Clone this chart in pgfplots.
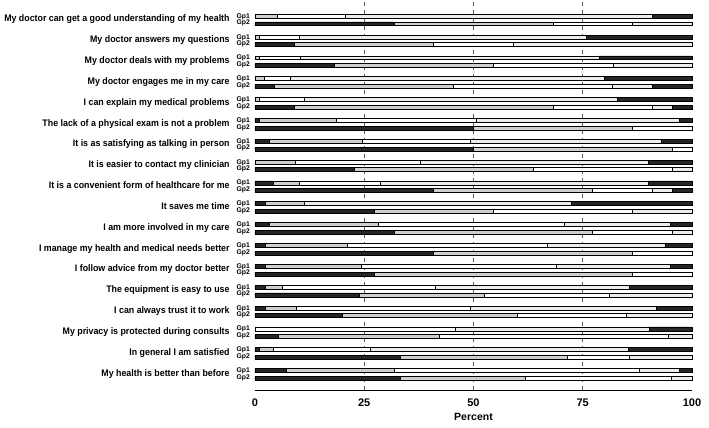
\documentclass[border=0pt]{standalone}
\usepackage{pgfplots}
\pgfplotsset{compat=1.18}
\usepackage{pgfplotstable}
\usepackage{fontspec}
\setmainfont{Liberation Sans}
\newfontfamily\narrowfont{Liberation Sans}[FakeStretch=0.93]
\definecolor{cdark}{HTML}{262626}
\definecolor{cgray}{HTML}{CFCFCF}
\definecolor{cwhite}{HTML}{FFFFFF}
\definecolor{clight}{HTML}{EDEDED}
\newcommand{\gp}{{\fontsize{6.8}{6.2}\selectfont\bfseries\begin{tabular}[c]{@{}r@{}}Gp1\\Gp2\end{tabular}}}
\newcommand{\lab}[1]{{\narrowfont\bfseries\fontsize{9.5}{11}\selectfont #1}\hspace{7pt}\gp}

\pgfplotstableread{
y      a     b     c     d     e
17.185 0     5.2   15.5  70.2  9.1
16.815 31.8  36.4  18.2  13.6  0
16.185 0     1.0   9.1   65.8  24.1
15.815 9.1   31.8  18.2  40.9  0
15.185 0     1.0   9.3   68.4  21.3
14.815 18.2  36.4  27.3  18.1  0
14.185 0     2.1   6.1   71.7  20.1
13.815 4.5   40.9  36.4  9.1   9.1
13.185 0     1.1   10.1  71.7  17.1
12.815 9.1   59.1  22.7  4.5   4.6
12.185 1.1   17.6  32.0  46.4  2.9
11.815 50.0  36.4  13.6  0     0
11.185 3.2   21.4  24.6  43.9  6.9
10.815 50.0  45.5  4.5   0     0
10.185 0     9.2   28.7  52.1  10.0
9.815  22.7  40.9  31.8  4.6   0
9.185  4.2   5.9   18.5  61.4  10.0
8.815  40.9  36.4  13.6  4.5   4.6
8.185  2.3   8.9   0     61.3  27.5
7.815  27.3  27.3  31.8  13.6  0
7.185  3.2   25.0  42.7  24.2  4.9
6.815  31.8  45.5  18.2  4.5   0
6.185  2.3   18.9  45.7  27.1  6.0
5.815  40.9  45.5  13.6  0     0
5.185  2.3   22.1  44.5  26.2  4.9
4.815  27.3  59.1  13.6  0     0
4.185  2.3   4.0   35.0  44.4  14.3
3.815  23.8  28.6  28.6  19.0  0
3.185  2.3   7.1   39.8  42.6  8.2
2.815  20.0  40.0  25.0  15.0  0
2.185  0     0     45.8  44.4  9.8
1.815  5.3   36.8  52.6  5.3   0
1.185  1.1   3.1   22.1  59.1  14.6
0.815  33.3  38.1  14.3  14.3  0
0.185  7.2   24.8  55.9  9.2   2.9
-0.185 33.3  28.6  33.3  4.8   0
}\datatab

\begin{document}
\begin{tikzpicture}
\begin{axis}[
  scale only axis, width=437pt, height=390pt,
  xmin=0, xmax=100, ymin=-0.743, ymax=17.96,
  xbar stacked, bar width=0.19,
  clip=false,
  axis x line*=bottom, axis y line*=left,
  x axis line style={-, line width=0.9pt},
  y axis line style={draw=none},
  major tick length=0pt,
  xtick={0,25,50,75,100},
  /pgf/number format/assume math mode=true,
  xticklabel style={font=\bfseries\fontsize{11}{12}\selectfont, inner sep=0pt, yshift=-9pt},
  extra x ticks={25,50,75}, extra x tick labels={},
  extra x tick style={grid=major},
  major grid style={dash pattern=on 4pt off 4pt, black!65, line width=0.7pt},
  xlabel={Percent},
  xlabel style={at={(axis description cs:0.5,0)}, anchor=north, inner sep=0pt, yshift=-23pt, font=\bfseries\fontsize{10.5}{12}\selectfont},
  ytick={17,16,15,14,13,12,11,10,9,8,7,6,5,4,3,2,1,0},
  yticklabels={
    {\lab{My doctor can get a good understanding of my health}},
    {\lab{My doctor answers my questions}},
    {\lab{My doctor deals with my problems}},
    {\lab{My doctor engages me in my care}},
    {\lab{I can explain my medical problems}},
    {\lab{The lack of a physical exam is not a problem}},
    {\lab{It is as satisfying as talking in person}},
    {\lab{It is easier to contact my clinician}},
    {\lab{It is a convenient form of healthcare for me}},
    {\lab{It saves me time}},
    {\lab{I am more involved in my care}},
    {\lab{I manage my health and medical needs better}},
    {\lab{I follow advice from my doctor better}},
    {\lab{The equipment is easy to use}},
    {\lab{I can always trust it to work}},
    {\lab{My privacy is protected during consults}},
    {\lab{In general I am satisfied}},
    {\lab{My health is better than before}}},
  yticklabel style={anchor=east, inner sep=0pt, xshift=-5pt},
  every axis plot/.append style={draw=black, line width=0.75pt},
]
\addplot[fill=cdark]  table[x=a, y=y] {\datatab};
\addplot[fill=cgray]  table[x=b, y=y] {\datatab};
\addplot[fill=cwhite] table[x=c, y=y] {\datatab};
\addplot[fill=clight] table[x=d, y=y] {\datatab};
\addplot[fill=cdark]  table[x=e, y=y] {\datatab};
\end{axis}
\pgfresetboundingbox
\path[use as bounding box] ([xshift=-255pt,yshift=-38pt]current axis.south west) rectangle ++(709pt,428pt);
\end{tikzpicture}
\end{document}
